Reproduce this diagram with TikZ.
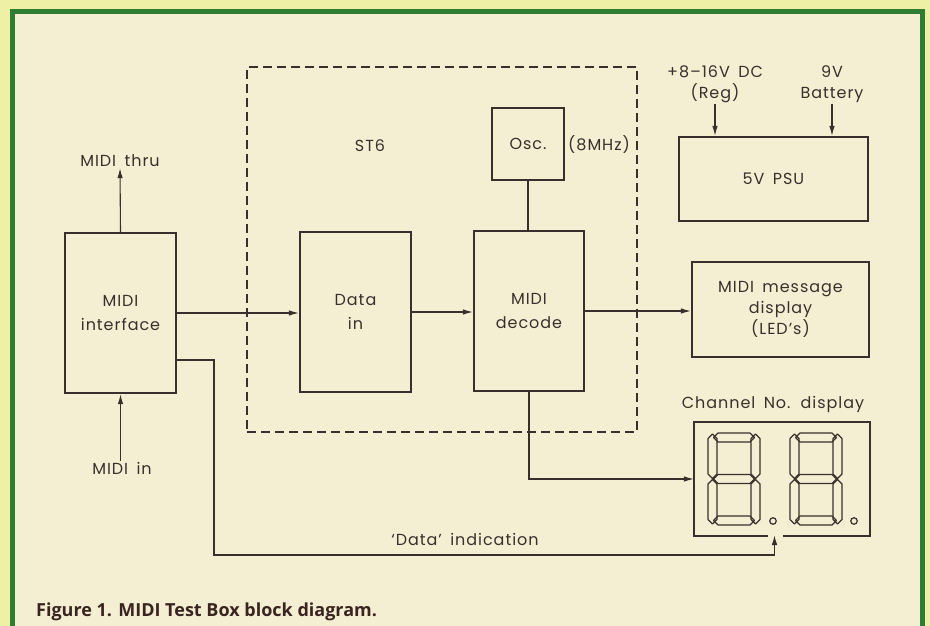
\documentclass[tikz,border=0pt]{standalone}
\usepackage{fontspec}
\setmainfont{Poppins}[LetterSpace=6,WordSpace=1.6]
\newfontfamily\capfont{Open Sans}
\usetikzlibrary{arrows.meta,calc}
\definecolor{outerbg}{HTML}{EEF0A6}
\definecolor{innerbg}{HTML}{F4EFD3}
\definecolor{framegreen}{HTML}{2E7D32}
\definecolor{ink}{HTML}{3A2F2C}
\definecolor{capink}{HTML}{3A2420}
\newcommand\dtext{\fontsize{16}{21}\selectfont}
\tikzset{
  segdigit/.pic={
    \draw[seg] (4.5,-91) -- (9,-86.5) -- (9,-51) -- (4.5,-46.5) -- (0,-51) -- (0,-86.5) -- cycle;
    \draw[seg] (4.5,-45.5) -- (9,-41) -- (9,-5.5) -- (4.5,-1) -- (0,-5.5) -- (0,-41) -- cycle;
    \draw[seg] (47.5,-91) -- (52,-86.5) -- (52,-51) -- (47.5,-46.5) -- (43,-51) -- (43,-86.5) -- cycle;
    \draw[seg] (47.5,-45.5) -- (52,-41) -- (52,-5.5) -- (47.5,-1) -- (43,-5.5) -- (43,-41) -- cycle;
    \draw[seg] (5.5,-87.5) -- (10,-92) -- (42,-92) -- (46.5,-87.5) -- (42,-83) -- (10,-83) -- cycle;
    \draw[seg] (5.5,-46) -- (10,-50.5) -- (42,-50.5) -- (46.5,-46) -- (42,-41.5) -- (10,-41.5) -- cycle;
    \draw[seg] (5.5,-4.5) -- (10,-9) -- (42,-9) -- (46.5,-4.5) -- (42,0) -- (10,0) -- cycle;
  }
}
\begin{document}
\begin{tikzpicture}[x=1pt,y=-1pt,
  box/.style={draw=ink,line width=2.3pt,inner sep=0pt,align=center,font=\dtext,text=ink},
  lbl/.style={inner sep=1pt,align=center,font=\dtext,text=ink},
  wire/.style={draw=ink,line width=1.1pt},
  arr/.style={wire,-{Latex[length=10pt,width=5.5pt]}},
  seg/.style={draw=ink,line width=1.2pt,line join=round}]
\useasboundingbox (0,0) rectangle (930,626);
% background and frame
\fill[outerbg] (0,0) rectangle (930,626);
\fill[innerbg] (12,12) rectangle (922,626);
\draw[framegreen,line width=5pt] (12,632) -- (12,12) -- (922,12) -- (922,632);

% ST6 dashed boundary
\node[draw=ink,line width=1.1pt,dash pattern=on 9pt off 5pt,minimum width=390,minimum height=365,inner sep=0pt] (st6box) at (442,249.5) {};
\node[lbl] (st6) at (370,146) {ST6};

% blocks
\node[box,minimum width=111,minimum height=160] (midiif) at (120.5,313) {MIDI\\[3pt]interface};
\node[box,minimum width=111,minimum height=160] (datain) at (355.5,312) {Data\\[3pt]in};
\node[box,minimum width=110,minimum height=160] (decode) at (529,311) {MIDI\\[3pt]decode};
\node[box,minimum width=72,minimum height=72] (osc) at (528,144) {Osc.};
\node[lbl] (mhz) at (599,145) {(8MHz)};
\node[box,minimum width=189,minimum height=84] (psu) at (773.5,179) {5V PSU};
\node[box,minimum width=177,minimum height=95] (msg) at (780.5,309.5) {MIDI message\\display\\(LED’s)};

% display
\node[minimum width=174,minimum height=112,inner sep=0pt,outer sep=1.15pt] (display) at (782,479) {};
\draw[draw=ink,line width=2.3pt,line join=miter] ($(display.south)+(-14.5,0)$) -- (display.south west) -- (display.north west) -- (display.north east) -- (display.south east) -- ($(display.south)+(0.5,0)$);
\node[lbl] (chan) at (773,404) {Channel No. display};
\begin{scope}[shift={(708,525)},xslant=0.08]
  \pic {segdigit};
\end{scope}
\begin{scope}[shift={(790,525)},xslant=0.08]
  \pic {segdigit};
\end{scope}
\node[draw=ink,line width=1.2pt,circle,minimum size=6.5pt,inner sep=0pt] (dp1) at (773,521) {};
\node[draw=ink,line width=1.2pt,circle,minimum size=6.5pt,inner sep=0pt] (dp2) at (854,521) {};
\coordinate (dpin) at (774.5,535);

% external labels
\node[lbl] (thru) at (120,161) {MIDI thru};
\node[lbl] (min) at (122,468) {MIDI in};
\node[lbl] (reg) at (715,84) {+8–16V DC\\(Reg)};
\node[lbl] (bat) at (832,84) {9V\\Battery};
\node[lbl] (dataind) at (465,539) {‘Data’ indication};

% connectors
\draw[arr] (midiif.north) -- (thru.south);
\draw[arr] (min.north -| midiif.south) -- (midiif.south);
\draw[arr] (midiif.east) -- (midiif.east -| datain.west);
\draw[arr] (datain.east) -- (datain.east -| decode.west);
\draw[arr] (decode.east) -- (decode.east -| msg.west);
\draw[wire] (osc.south) -- (osc.south |- decode.north);
\draw[arr] (decode.south) |- (display.west);
\coordinate (dcorner) at (214,555);
\draw[arr] ($(midiif.east)+(0,47)$) -| (dcorner) -| (dpin);
\draw[arr] (reg.south) -- (reg.south |- psu.north);
\draw[arr] (bat.south) -- (bat.south |- psu.north);

% caption
\node[anchor=west,inner sep=0pt,font=\capfont\bfseries\fontsize{18}{20}\selectfont,text=capink] (cap) at (36,612) {Figure 1. MIDI Test Box block diagram.};
\end{tikzpicture}
\end{document}
